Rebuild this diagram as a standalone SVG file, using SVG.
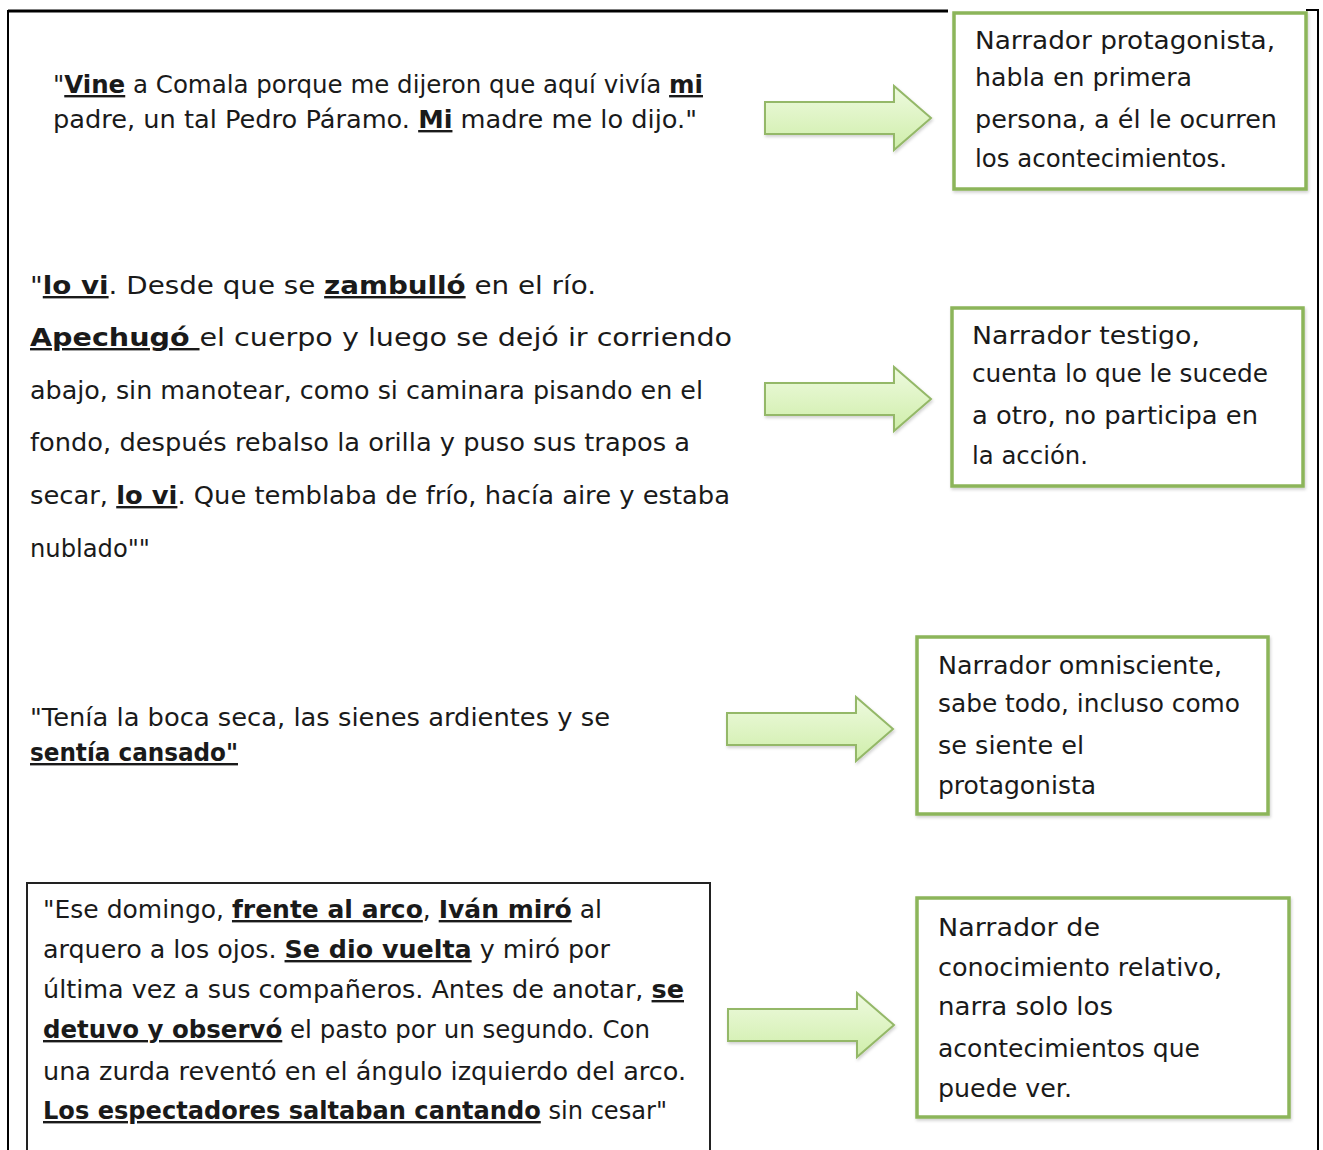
<svg xmlns="http://www.w3.org/2000/svg" width="1323" height="1150" viewBox="0 0 1323 1150">
<style>
text { font-family: "DejaVu Sans", "Liberation Sans", sans-serif; font-size: 24px; fill: #1a1a1a; }
.u { font-weight: bold; text-decoration: underline; }
.gbox { fill: #ffffff; stroke: #8cb55a; stroke-width: 3.5; }
.arrow { fill: url(#ag); stroke: #94b868; stroke-width: 2; }
.frame { stroke: #000; fill: none; }
</style>
<defs>
<linearGradient id="ag" x1="0" y1="0" x2="0" y2="1">
<stop offset="0" stop-color="#eefadf"/>
<stop offset="1" stop-color="#cfeeaa"/>
</linearGradient>
<filter id="sh" x="-10%" y="-10%" width="120%" height="130%">
<feDropShadow dx="1" dy="2" stdDeviation="1.5" flood-color="#000" flood-opacity="0.18"/>
</filter>
<path id="arr" d="M0,-16 H129 V-32 L166,0 L129,32 V16 H0 Z"/>
</defs>
<rect width="1323" height="1150" fill="#ffffff"/>
<g id="frame">
<line class="frame" x1="8" y1="10" x2="8" y2="1150" stroke-width="2"/>
<line class="frame" x1="1318" y1="10" x2="1318" y2="1150" stroke-width="2"/>
<line class="frame" x1="8" y1="11" x2="948" y2="11" stroke-width="3"/>
<line class="frame" x1="1306" y1="10" x2="1319" y2="10" stroke-width="2"/>
</g>
<g id="connectors">
<use href="#arr" class="arrow" filter="url(#sh)" transform="translate(765,118)"/>
<use href="#arr" class="arrow" filter="url(#sh)" transform="translate(765,399)"/>
<use href="#arr" class="arrow" filter="url(#sh)" transform="translate(727,729)"/>
<use href="#arr" class="arrow" filter="url(#sh)" transform="translate(728,1025)"/>
</g>
<g id="quote1">
<text x="53" y="93" textLength="650" lengthAdjust="spacingAndGlyphs">"<tspan class="u">Vine</tspan> a Comala porque me dijeron que aquí vivía <tspan class="u">mi</tspan></text>
<text x="53" y="128" textLength="644" lengthAdjust="spacingAndGlyphs">padre, un tal Pedro Páramo. <tspan class="u">Mi</tspan> madre me lo dijo."</text>
</g>
<g id="quote2">
<text x="30" y="294" textLength="566" lengthAdjust="spacingAndGlyphs">"<tspan class="u">lo vi</tspan>. Desde que se <tspan class="u">zambulló</tspan> en el río.</text>
<text x="30" y="346" textLength="702" lengthAdjust="spacingAndGlyphs"><tspan class="u">Apechugó </tspan>el cuerpo y luego se dejó ir corriendo</text>
<text x="30" y="399" textLength="673" lengthAdjust="spacingAndGlyphs">abajo, sin manotear, como si caminara pisando en el</text>
<text x="30" y="451" textLength="660" lengthAdjust="spacingAndGlyphs">fondo, después rebalso la orilla y puso sus trapos a</text>
<text x="30" y="504" textLength="700" lengthAdjust="spacingAndGlyphs">secar, <tspan class="u">lo vi</tspan>. Que temblaba de frío, hacía aire y estaba</text>
<text x="30" y="557" textLength="120" lengthAdjust="spacingAndGlyphs">nublado""</text>
</g>
<g id="quote3">
<text x="30" y="726" textLength="580" lengthAdjust="spacingAndGlyphs">"Tenía la boca seca, las sienes ardientes y se</text>
<text x="30" y="761" textLength="208" lengthAdjust="spacingAndGlyphs"><tspan class="u">sentía cansado"</tspan></text>
</g>
<g id="quote4">
<rect x="27" y="883" width="683" height="290" fill="none" stroke="#222" stroke-width="2"/>
<text x="43" y="918" textLength="559" lengthAdjust="spacingAndGlyphs">"Ese domingo, <tspan class="u">frente al arco</tspan>, <tspan class="u">Iván miró</tspan> al</text>
<text x="43" y="958" textLength="567" lengthAdjust="spacingAndGlyphs">arquero a los ojos. <tspan class="u">Se dio vuelta</tspan> y miró por</text>
<text x="43" y="998" textLength="641" lengthAdjust="spacingAndGlyphs">última vez a sus compañeros. Antes de anotar, <tspan class="u">se</tspan></text>
<text x="43" y="1038" textLength="607" lengthAdjust="spacingAndGlyphs"><tspan class="u">detuvo y observó</tspan> el pasto por un segundo. Con</text>
<text x="43" y="1080" textLength="643" lengthAdjust="spacingAndGlyphs">una zurda reventó en el ángulo izquierdo del arco.</text>
<text x="43" y="1119" textLength="624" lengthAdjust="spacingAndGlyphs"><tspan class="u">Los espectadores saltaban cantando</tspan> sin cesar"</text>
</g>
<g id="box1">
<rect class="gbox" filter="url(#sh)" x="954" y="13" width="352" height="176"/>
<text x="975" y="49" textLength="300" lengthAdjust="spacingAndGlyphs">Narrador protagonista,</text>
<text x="975" y="86" textLength="217" lengthAdjust="spacingAndGlyphs">habla en primera</text>
<text x="975" y="128" textLength="302" lengthAdjust="spacingAndGlyphs">persona, a él le ocurren</text>
<text x="975" y="167" textLength="252" lengthAdjust="spacingAndGlyphs">los acontecimientos.</text>
</g>
<g id="box2">
<rect class="gbox" filter="url(#sh)" x="952" y="308" width="351" height="178"/>
<text x="972" y="344" textLength="228" lengthAdjust="spacingAndGlyphs">Narrador testigo,</text>
<text x="972" y="382" textLength="296" lengthAdjust="spacingAndGlyphs">cuenta lo que le sucede</text>
<text x="972" y="424" textLength="286" lengthAdjust="spacingAndGlyphs">a otro, no participa en</text>
<text x="972" y="464" textLength="116" lengthAdjust="spacingAndGlyphs">la acción.</text>
</g>
<g id="box3">
<rect class="gbox" filter="url(#sh)" x="917" y="637" width="351" height="177"/>
<text x="938" y="674" textLength="284" lengthAdjust="spacingAndGlyphs">Narrador omnisciente,</text>
<text x="938" y="712" textLength="302" lengthAdjust="spacingAndGlyphs">sabe todo, incluso como</text>
<text x="938" y="754" textLength="146" lengthAdjust="spacingAndGlyphs">se siente el</text>
<text x="938" y="794" textLength="158" lengthAdjust="spacingAndGlyphs">protagonista</text>
</g>
<g id="box4">
<rect class="gbox" filter="url(#sh)" x="917" y="898" width="372" height="219"/>
<text x="938" y="936" textLength="162" lengthAdjust="spacingAndGlyphs">Narrador de</text>
<text x="938" y="976" textLength="284" lengthAdjust="spacingAndGlyphs">conocimiento relativo,</text>
<text x="938" y="1015" textLength="175" lengthAdjust="spacingAndGlyphs">narra solo los</text>
<text x="938" y="1057" textLength="262" lengthAdjust="spacingAndGlyphs">acontecimientos que</text>
<text x="938" y="1097" textLength="134" lengthAdjust="spacingAndGlyphs">puede ver.</text>
</g>
</svg>
